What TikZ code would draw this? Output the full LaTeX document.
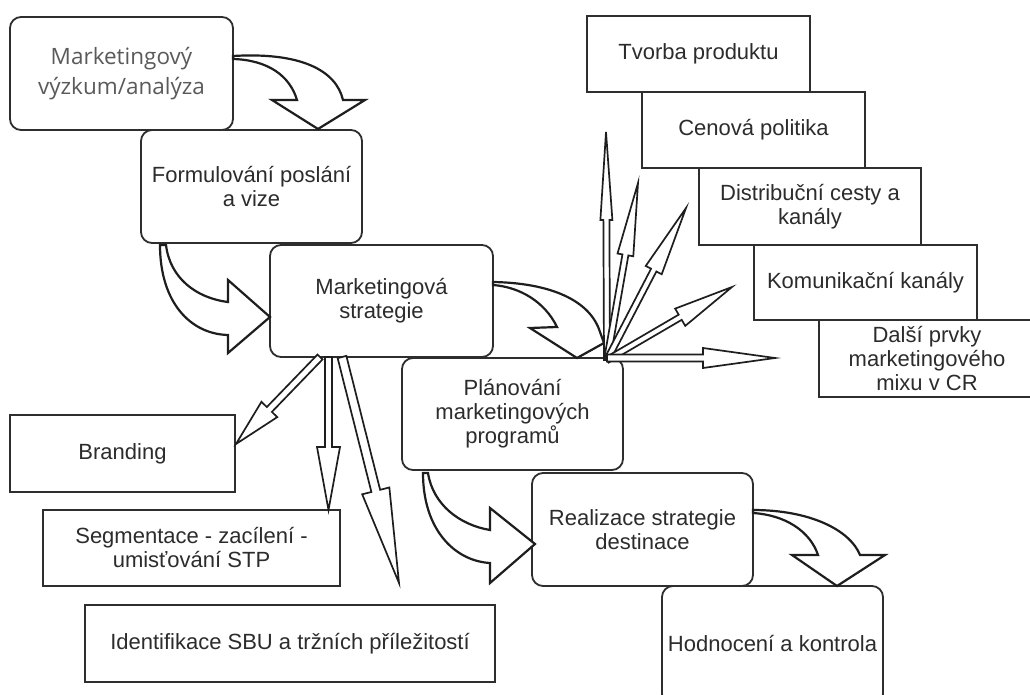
\documentclass[tikz,border=0pt]{standalone}
\usepackage{fontspec}
\setmainfont{Liberation Sans}
\newfontfamily\headfont{Open Sans}
\usetikzlibrary{calc}

\definecolor{ink}{HTML}{1E1E1E}
\definecolor{frame}{HTML}{2E2E2E}
\definecolor{txt}{HTML}{2C2C2C}
\definecolor{soft}{HTML}{5A5A5A}

% straight hollow arrow: from, to, shaft half width, head half width, head length
\newcommand{\hollowarrow}[5]{%
  \path ($(#2)!#5!(#1)$) coordinate (hb);
  \draw[linearrow] ($(#1)!#3!90:(#2)$) -- ($(hb)!#3!90:(#2)$) -- ($(hb)!#4!90:(#2)$)
    -- (#2) -- ($(hb)!#4!-90:(#2)$) -- ($(hb)!#3!-90:(#2)$) -- ($(#1)!#3!-90:(#2)$) -- cycle;
}

\tikzset{
  stage/.style={draw=frame, line width=1.8pt, rounded corners=11pt, fill=white,
    align=center, text=txt, inner sep=0pt, font=\fontsize{22}{24}\selectfont},
  item/.style={draw=frame, line width=1.8pt, fill=white,
    align=center, text=txt, inner sep=0pt, font=\fontsize{22}{24}\selectfont},
  blockarrow/.style={draw=ink, line width=2.2pt, fill=white, line join=miter},
  linearrow/.style={draw=ink, line width=1.7pt, fill=white, line join=miter},
}

\begin{document}
\begin{tikzpicture}[x=1pt, y=-1pt]
\useasboundingbox[fill=white] (0,0) rectangle (1030,695);

% main process stages
\node[stage, minimum width=223pt, minimum height=113pt, text=soft,
      font=\headfont\fontsize{22.5}{30}\selectfont] (mv) at (121.5,73.5)
      {Marketingový\\výzkum/analýza};
\node[stage, minimum width=221pt, minimum height=113pt] (fp) at (251.5,186.5)
      {Formulování poslání\\a vize};
\node[stage, minimum width=223pt, minimum height=112pt] (ms) at (381.5,301)
      {Marketingová\\strategie};
\node[stage, minimum width=221pt, minimum height=112pt] (pm) at (512.5,414)
      {Plánování\\marketingových\\programů};
\node[stage, minimum width=221pt, minimum height=113pt] (rs) at (642.5,529.5)
      {Realizace strategie\\destinace};
\node[stage, minimum width=221pt, minimum height=119pt] (hk) at (772.5,645.5)
      {\raisebox{5pt}{Hodnocení a kontrola}};

% marketing mix elements
\node[item, minimum width=223pt, minimum height=76pt] (tv) at (698.5,54)
      {Tvorba produktu};
\node[item, minimum width=223pt, minimum height=76pt] (cp) at (753.5,130)
      {Cenová politika};
\node[item, minimum width=222pt, minimum height=77pt] (dc) at (810,206.5)
      {Distribuční cesty a\\kanály};
\node[item, minimum width=223pt, minimum height=75pt] (kk) at (865.5,282.5)
      {Komunikační kanály};
\node[item, minimum width=216pt, minimum height=77pt] (dp) at (927,358.5)
      {Další prvky\\marketingového\\mixu v CR};

% strategy components
\node[item, minimum width=225pt, minimum height=77pt] (br) at (122.5,453.5)
      {Branding};
\node[item, minimum width=297pt, minimum height=76pt] (sg) at (191.5,548)
      {Segmentace - zacílení -\\umisťování STP};
\node[item, minimum width=410pt, minimum height=77pt] (id) at (290,643.5)
      {Identifikace SBU a tržních příležitostí};

% curved block arrows between stages
\draw[blockarrow] (233,56) .. controls (300,52) and (336,70) .. (343,100)
  -- (365,100) -- (318,129) -- (272,100) -- (297,100)
  .. controls (290,76) and (268,60) .. (233,59) -- cycle;
\draw[blockarrow] (160,245) .. controls (160,302) and (190,334) .. (228,335)
  -- (228,353) -- (270,317) -- (228,280) -- (228,302)
  .. controls (196,298) and (170,278) .. (166,245) -- cycle;
\draw[blockarrow] (493,282) .. controls (550,283) and (590,300) .. (600,332)
  -- (604,343) -- (577,358) -- (530,328) -- (557,327)
  .. controls (545,302) and (520,287) .. (493,285) -- cycle;
\draw[blockarrow] (423,473) .. controls (423,530) and (455,561) .. (490,563)
  -- (490,583) -- (535,544) -- (490,508) -- (490,530)
  .. controls (460,525) and (433,505) .. (428,473) -- cycle;
\draw[blockarrow] (753,510) .. controls (810,510) and (850,530) .. (860,555)
  -- (885,555) -- (837,586) -- (792,555) -- (818,555)
  .. controls (810,531) and (785,515) .. (753,513) -- cycle;

% fan of arrows towards the marketing mix
\coordinate (hub) at (607,360);
\coordinate (hubr) at (607,358);
\coordinate (f1) at (606,132);
\coordinate (f2) at (638,183);
\coordinate (f3) at (686,208);
\coordinate (f4) at (732,287);
\coordinate (f5) at (775,358);
\hollowarrow{hub}{f1}{3pt}{6pt}{88pt}
\hollowarrow{hub}{f2}{3pt}{8pt}{73pt}
\hollowarrow{hub}{f3}{3pt}{9pt}{70pt}
\hollowarrow{hub}{f4}{3pt}{10pt}{60pt}
\hollowarrow{hubr}{f5}{3.5pt}{10pt}{72pt}

% arrows from the strategy to its components
\coordinate (s1) at (320,357);
\coordinate (s2) at (328.5,357);
\coordinate (s3) at (342,357);
\coordinate (t1) at (236,444);
\coordinate (t2) at (328.5,510);
\coordinate (t3) at (399,583);
\hollowarrow{s3}{t3}{4.5pt}{14pt}{95pt}
\hollowarrow{s1}{t1}{3.5pt}{11pt}{48pt}
\hollowarrow{s2}{t2}{3.5pt}{11.5pt}{63pt}
\end{tikzpicture}
\end{document}
